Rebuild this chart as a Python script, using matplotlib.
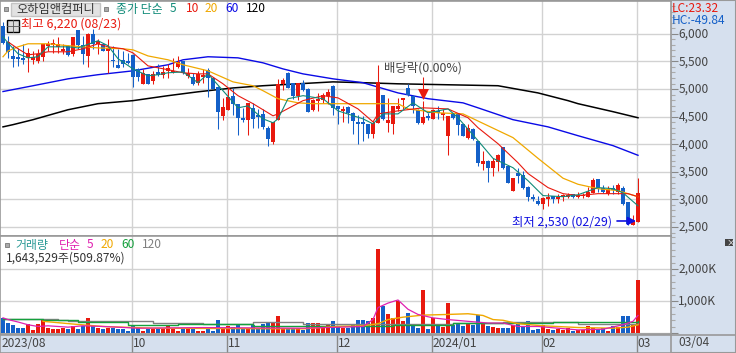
import matplotlib
matplotlib.use("Agg")
import matplotlib.pyplot as plt
from matplotlib.patches import Rectangle
from matplotlib.ticker import MultipleLocator, FixedLocator, FuncFormatter

plt.rcParams['font.family'] = ['Noto Sans CJK KR', 'DejaVu Sans']

W, H = 736, 353
RED = '#e8190e'
BLUE = '#1460c8'
GRID = '#d2d2d2'
EDGE = '#999999'
PANEL = '#d6e0ee'
TEXT = '#444444'

open_p = [6145, 5855, 5600, 5585, 5565, 5565, 5530, 5510, 5585, 5785,
          5800, 5765, 5690, 5785, 5640, 6070, 5800, 5600, 6000, 5820,
          5820, 5690, 5530, 5440, 5530, 5510, 5620, 5365, 5095, 5275,
          5150, 5310, 5260, 5330, 5310, 5400, 5510, 5240, 5220, 5115,
          5220, 5350, 5205, 5040, 4515, 4625, 4880, 4735, 4480, 4445,
          4660, 4535, 4550, 4300, 4045, 4445, 5095, 5295, 5115, 4880,
          5115, 5005, 4625, 4790, 4805, 4880, 5060, 4695, 4605, 4680,
          4570, 4405, 4405, 4370, 4190, 4390, 4895, 4390, 4370, 4640,
          4805, 5020, 4880, 4625, 4390, 4515, 4460, 4605, 4535, 4155,
          4550, 4570, 4370, 4120, 4280, 4065, 3645, 3700, 3575, 3685,
          3955, 3610, 3160, 3485, 3450, 3230, 3050, 2980, 2925, 3015,
          3070, 3015, 3050, 3050, 3105, 3050, 3070, 3050, 3120, 3375,
          3215, 3105, 3215, 3140, 3215, 2960, 2530, 2600]
close_p = [5835, 5675, 5550, 5550, 5530, 5655, 5585, 5640, 5820, 5820,
           5835, 5820, 5730, 5620, 5945, 5800, 5640, 6000, 5820, 5875,
           5690, 5745, 5510, 5385, 5455, 5475, 5220, 5220, 5295, 5095,
           5275, 5260, 5310, 5385, 5330, 5495, 5295, 5295, 5095, 5275,
           5260, 5205, 5005, 4590, 4680, 4860, 4735, 4480, 4445, 4750,
           4460, 4500, 4315, 4100, 4405, 5095, 5165, 5020, 4880, 5115,
           4985, 4590, 4805, 4825, 4895, 4950, 4660, 4640, 4640, 4570,
           4425, 4370, 4370, 4190, 4390, 5130, 4460, 4445, 4695, 4695,
           4840, 4895, 4695, 4390, 4500, 4480, 4625, 4570, 4570, 4515,
           4480, 4355, 4155, 4300, 4100, 3665, 3700, 3575, 3700, 3810,
           3575, 3305, 3395, 3430, 3215, 3050, 3015, 2925, 3030, 3050,
           3015, 3050, 3085, 3085, 3050, 3085, 3085, 3140, 3360, 3215,
           3140, 3195, 3180, 3270, 2925, 2560, 2610, 3120]
high_p = [6220, 5965, 5785, 5745, 5820, 5745, 5690, 5730, 5820, 5875,
          5910, 5945, 5820, 5800, 5945, 6070, 5965, 6020, 6090, 5910,
          5820, 5910, 5785, 5730, 5690, 5655, 5640, 5385, 5365, 5275,
          5330, 5455, 5420, 5455, 5565, 5600, 5510, 5385, 5295, 5330,
          5365, 5385, 5220, 5060, 4840, 5020, 5020, 4735, 4660, 4750,
          4750, 4640, 4640, 4335, 4405, 5185, 5205, 5310, 5115, 5115,
          5165, 5020, 4825, 4930, 4930, 5005, 5075, 4695, 4695, 4695,
          4590, 4535, 4515, 4370, 4425, 5440, 4895, 4840, 4695, 4840,
          4840, 5095, 4895, 4640, 4790, 4570, 4640, 4695, 4640, 4515,
          4570, 4570, 4370, 4370, 4300, 4065, 3880, 3720, 3755, 3830,
          3955, 3630, 3395, 3575, 3520, 3250, 3105, 3070, 3050, 3120,
          3070, 3105, 3105, 3120, 3105, 3140, 3120, 3230, 3395, 3375,
          3270, 3250, 3270, 3305, 3250, 2960, 2725, 3395]
low_p = [5820, 5565, 5400, 5420, 5455, 5310, 5455, 5475, 5510, 5690,
         5655, 5655, 5640, 5600, 5600, 5730, 5455, 5400, 5730, 5640,
         5690, 5295, 5400, 5385, 5400, 5455, 5040, 5150, 5095, 5095,
         5095, 5240, 5205, 5205, 5295, 5385, 5275, 5205, 5075, 5075,
         5115, 4860, 5005, 4280, 4445, 4625, 4535, 4170, 4405, 4170,
         4300, 4300, 4280, 3975, 4010, 4445, 4985, 5020, 4825, 4805,
         4970, 4590, 4605, 4605, 4750, 4735, 4535, 4370, 4405, 4390,
         4190, 4010, 4065, 4120, 4120, 4390, 4445, 4225, 4190, 4605,
         4640, 4880, 4570, 4370, 4370, 4445, 4460, 4460, 4445, 3810,
         4460, 4170, 4155, 4100, 4080, 3610, 3540, 3320, 3430, 3520,
         3555, 3290, 3160, 3305, 3195, 2980, 2980, 2905, 2830, 2885,
         2940, 2940, 2980, 3030, 3030, 3030, 3030, 3050, 3120, 3140,
         3120, 3085, 3105, 3105, 2905, 2540, 2530, 2600]

volume_k = [473, 322, 258, 172, 172, 290, 97, 290, 440, 172,
            130, 140, 172, 140, 225, 140, 225, 484, 225, 172,
            130, 172, 172, 140, 140, 75, 225, 172, 65, 118,
            118, 140, 118, 258, 130, 75, 130, 130, 118, 65,
            65, 150, 75, 419, 130, 204, 183, 258, 118, 172,
            247, 140, 280, 333, 312, 516, 172, 172, 172, 172,
            97, 301, 301, 312, 172, 247, 376, 225, 172, 172,
            258, 419, 419, 387, 473, 2612, 838, 580, 484, 1010,
            387, 634, 258, 172, 1354, 130, 473, 225, 194, 935,
            258, 312, 225, 312, 258, 548, 312, 225, 194, 161,
            172, 172, 258, 312, 194, 365, 97, 130, 258, 130,
            97, 140, 97, 150, 75, 97, 97, 225, 150, 140,
            172, 65, 225, 194, 516, 516, 258, 1643]

ma5_i = [0, 1, 3, 5, 7, 9, 13, 15, 19, 21, 23, 26, 29, 31, 33, 36, 39, 41, 44, 47, 49, 52, 54, 55,
         57, 60, 64, 67, 72, 74, 76, 79, 82, 85, 89, 91, 95, 98, 102, 105, 108, 112, 115, 119, 122, 124, 127]
ma5 = [5945, 5835, 5640, 5565, 5585, 5765, 5765, 5745, 5875, 5785, 5550, 5365, 5240, 5260, 5295, 5310,
       5115, 5275, 4970, 4660, 4695, 4460, 4390, 4460, 4825, 4880, 4825, 4605, 4460, 4370, 4550, 4550,
       4750, 4570, 4640, 4480, 4065, 3745, 3575, 3340, 3070, 3050, 3085, 3215, 3195, 3120, 2885]
ma10_i = [1, 3, 5, 7, 9, 13, 16, 19, 21, 24, 26, 29, 31, 33, 36, 39, 41, 44, 47, 50, 52, 54, 55,
          58, 60, 64, 67, 71, 74, 75, 79, 84, 89, 93, 95, 99, 103, 105, 109, 112, 115, 119, 122, 125, 127]
ma10 = [5855, 5730, 5620, 5640, 5675, 5675, 5730, 5820, 5765, 5730, 5655, 5420, 5385, 5350, 5295, 5275,
        5275, 5095, 4880, 4735, 4625, 4515, 4550, 4695, 4790, 4880, 4840, 4640, 4405, 4550, 4605, 4660,
        4640, 4480, 4300, 4010, 3665, 3470, 3215, 3105, 3070, 3105, 3105, 3105, 3050]
ma20_i = [0, 1, 3, 5, 9, 13, 19, 24, 26, 29, 33, 36, 41, 46, 50, 52, 55, 59, 62, 66, 72, 79, 81,
          87, 92, 97, 102, 107, 112, 115, 119, 123, 125, 127]
ma20 = [5585, 5690, 5765, 5820, 5820, 5785, 5745, 5730, 5710, 5600, 5530, 5440, 5330, 5130, 5060, 4970,
        4825, 4750, 4735, 4735, 4735, 4735, 4640, 4570, 4550, 4335, 4120, 3745, 3385, 3275, 3195, 3160,
        3105, 3050]
ma60_i = [0, 6, 13, 19, 26, 33, 36, 41, 47, 52, 56, 60, 66, 72, 79, 85, 92, 95, 102, 109, 115, 122, 127]
ma60 = [4955, 5060, 5185, 5260, 5330, 5440, 5530, 5585, 5565, 5475, 5365, 5275, 5185, 5115, 4930, 4825,
        4750, 4660, 4445, 4315, 4155, 3975, 3800]
ma120_i = [0, 2, 6, 13, 19, 26, 33, 39, 46, 52, 59, 66, 72, 79, 99, 107, 113, 115, 122, 127]
ma120 = [4315, 4355, 4445, 4625, 4735, 4790, 4880, 4950, 5020, 5060, 5095, 5130, 5115, 5095, 5060, 4930,
         4790, 4735, 4590, 4480]

vol5_i = [0, 1, 3, 5, 7, 9, 13, 16, 20, 27, 40, 60, 72, 74, 75, 77, 79, 81, 83, 86, 89, 93, 97, 100,
          103, 107, 111, 115, 120, 124, 126, 127]
vol5 = [473, 420, 344, 258, 204, 225, 183, 225, 204, 150, 170, 150, 204, 419, 795, 935, 1032, 742, 580,
        473, 420, 365, 312, 312, 204, 204, 150, 97, 118, 258, 365, 548]
vol20_i = [8, 14, 20, 30, 60, 67, 72, 75, 77, 80, 84, 89, 93, 96, 98, 100, 103, 108, 115, 122, 125, 127]
vol20 = [365, 280, 204, 150, 130, 204, 225, 290, 419, 495, 559, 580, 602, 548, 420, 398, 290, 225, 172,
         150, 183, 258]
vol60_i = [0, 8, 15, 25, 35, 50, 60, 70, 78, 90, 100, 110, 120, 127]
vol60 = [440, 398, 333, 258, 270, 225, 204, 225, 258, 312, 322, 344, 344, 365]
vol120_i = [0, 5, 11, 13, 20, 30, 40, 50, 60, 70, 80, 90, 100, 115, 127]
vol120 = [440, 440, 420, 387, 365, 312, 290, 333, 290, 280, 280, 312, 333, 280, 333]

month_idx = [26, 45, 67, 86, 108, 127]
month_labels = ['10', '11', '12', '2024/01', '02', '03']
price_ticks = [2500, 3000, 3500, 4000, 4500, 5000, 5500, 6000]
vol_ticks = [0, 1000, 2000]


def px(x, y):
    return x / W, 1 - y / H


def label(x, y, s, color=TEXT, size=8.6, **kw):
    fig.text(*px(x, y), s, color=color, fontsize=size, va='center', **kw)


def fmt_axis(ax):
    ax.set_xlim(-0.6, 133.6)
    ax.set_xticks([])
    ax.yaxis.tick_right()
    ax.tick_params(axis='y', which='major', length=5, width=0.8, color='#888888',
                   labelcolor=TEXT, labelsize=8.6, pad=1)
    ax.tick_params(axis='y', which='minor', length=3, width=0.8, color='#aaaaaa')
    for s in ax.spines.values():
        s.set_color(EDGE)
        s.set_linewidth(1.2)
    ax.set_axisbelow(True)
    ax.grid(axis='y', which='major', color=GRID, lw=1)
    for m in month_idx:
        ax.axvline(m - 0.3, color=GRID, lw=1, zorder=0.5)


fig = plt.figure(figsize=(W / 100, H / 100), dpi=100, facecolor=PANEL)
fig.patches.append(Rectangle((0, 0), 1, 1, transform=fig.transFigure, fc=PANEL, ec='#999999', lw=1.5, zorder=-5))

x = list(range(len(open_p)))
colors = [RED if c >= o else BLUE for o, c in zip(open_p, close_p)]

# price panel
ax = fig.add_axes([0, 1 - 236 / H, 671 / W, 235 / H])
fmt_axis(ax)
ax.set_ylim(2338, 6595)
ax.yaxis.set_major_locator(FixedLocator(price_ticks))
ax.yaxis.set_minor_locator(MultipleLocator(100))
ax.yaxis.set_major_formatter(FuncFormatter(lambda v, p: f'{int(v):,}'))

ax.plot(ma120_i, ma120, color='black', lw=1.1, zorder=2)
ax.plot(ma60_i, ma60, color='#0a0ae6', lw=1, zorder=2)
ax.vlines(x, low_p, high_p, colors=colors, lw=0.75, zorder=3)
ax.bar(x, [abs(c - o) for o, c in zip(open_p, close_p)], bottom=[min(o, c) for o, c in zip(open_p, close_p)],
       width=0.68, color=colors, lw=0, zorder=3)
ax.plot(ma20_i, ma20, color='#f0a800', lw=0.9, zorder=4)
ax.plot(ma10_i, ma10, color='#e8190e', lw=0.8, zorder=4)
ax.plot(ma5_i, ma5, color='#0f8a78', lw=0.8, zorder=4)

# dividend marker and low marker
ax.vlines(84, 4860, 5210, color=RED, lw=0.75, zorder=5)
ax.scatter([84], [4905], marker='v', s=62, color=RED, lw=0, zorder=5)
ax.annotate('', xy=(126.6, 2610), xytext=(122.8, 2610),
            arrowprops=dict(arrowstyle='-|>', color='#1010e0', lw=1.2, mutation_scale=12, shrinkA=0, shrinkB=0),
            zorder=6)

# volume panel
vx = fig.add_axes([0, 1 - 334 / H, 671 / W, 98 / H])
fmt_axis(vx)
vx.set_ylim(-31, 3031)
vx.yaxis.set_major_locator(FixedLocator(vol_ticks))
vx.yaxis.set_minor_locator(MultipleLocator(200))
vx.yaxis.set_major_formatter(FuncFormatter(lambda v, p: f'{int(v):,}K' if v > 0 else ''))
vx.bar(x, volume_k, width=0.68, color=colors, lw=0, zorder=2)
vx.step(vol120_i, vol120, where='post', color='#808080', lw=1, zorder=3)
vx.step(vol60_i, vol60, where='post', color='#14a03c', lw=1, zorder=3)
vx.plot(vol20_i, vol20, color='#f0a800', lw=1, zorder=3)
vx.plot(vol5_i, vol5, color='#e020b0', lw=0.9, zorder=4)

# nudge the axis labels up a pixel, Noto sits low
nudge = matplotlib.transforms.ScaledTranslation(-1 / 100, 1 / 100, fig.dpi_scale_trans)
for a in (ax, vx):
    for t in a.get_yticklabels():
        t.set_transform(t.get_transform() + nudge)

# date band
dx = fig.add_axes([0, 0.5 / H, 671 / W, 18 / H], facecolor=PANEL)
dx.set_xlim(-0.6, 133.6)
dx.set_ylim(0, 1)
dx.set_xticks([])
dx.set_yticks([])
for s in dx.spines.values():
    s.set_color(EDGE)
    s.set_linewidth(1.2)
for m, s in zip(month_idx, month_labels):
    dx.axvline(m - 0.3, color='#888888', lw=1)
    dx.text(m - 0.1, 0.52, s, color=TEXT, fontsize=8.6, va='center')
dx.text(-0.3, 0.52, '2023/08', color=TEXT, fontsize=8.6, va='center')
fig.add_artist(plt.Line2D([671 / W, 1], [1 - 334.5 / H] * 2, color=EDGE, lw=1.2))
label(678, 342, '03/04')

# header text
fig.patches.append(Rectangle(px(11, 16), 89 / W, 13 / H, transform=fig.transFigure,
                             fc='#e2e2e2', ec='#c4c4c4', lw=1))
fig.patches.append(Rectangle(px(4, 11), 4 / W, 4 / H, transform=fig.transFigure, fc='#aaaaaa', ec='#777777', lw=0.6))
fig.patches.append(Rectangle(px(104, 11), 4 / W, 4 / H, transform=fig.transFigure, fc='#aaaaaa', ec='#777777', lw=0.6))
label(16, 9.5, '오하임앤컴퍼니', color='#333333', size=8.8)
label(116, 9, '종가 단순', color='#0f8a78')
label(170, 9, '5', color='#0f8a78')
label(186, 9, '10', color=RED)
label(205, 9, '20', color='#f0a800')
label(225, 9, '60', color='#0a0ae6')
label(246, 9, '120', color='black')

fig.patches.append(Rectangle(px(7, 32), 12 / W, 12 / H, transform=fig.transFigure, fc='#d8d8d8', ec='black', lw=1))
fig.add_artist(plt.Line2D([7 / W, 19 / W], [1 - 26 / H] * 2, color='#555555', lw=0.6))
fig.add_artist(plt.Line2D([13 / W, 13 / W], [1 - 32 / H, 1 - 20 / H], color='#555555', lw=0.6))
label(21, 24, '최고 6,220 (08/23)', color=RED, size=8.9)
label(384, 68, '배당락(0.00%)', size=8.9)
label(512, 222, '최저 2,530 (02/29)', color='#1010e0', size=8.9)

label(672, 8, 'LC:23.32', color=RED)
label(672, 20, 'HC:-49.84', color=BLUE)

# volume header
fig.patches.append(Rectangle(px(5, 247), 4 / W, 4 / H, transform=fig.transFigure, fc='#aaaaaa', ec='#777777', lw=0.6))
label(15, 245, '거래량', color='#2a9a96')
label(59, 245, '단순', color='#e020b0')
label(87, 245, '5', color='#e020b0')
label(101, 245, '20', color='#f0a800')
label(121, 245, '60', color='#14a03c')
label(142, 245, '120', color='#808080')
label(6, 258, '1,643,529주(509.87%)', color='#333333')

fig.patches.append(Rectangle(px(725, 246), 8 / W, 7 / H, transform=fig.transFigure, fc='#444444', ec='none'))
label(726.5, 242.5, '×', color='white', size=6)

fig.savefig('out.png', dpi=100, facecolor=fig.get_facecolor())
